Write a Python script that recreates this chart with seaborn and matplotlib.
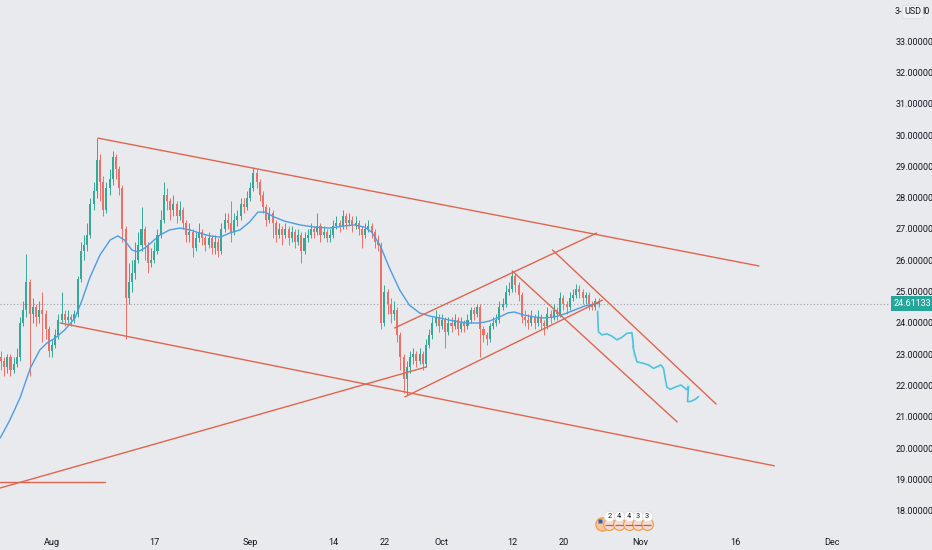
import numpy as np
import pandas as pd
import matplotlib
matplotlib.use("Agg")
import matplotlib.pyplot as plt
import matplotlib.dates as mdates
import matplotlib.transforms as mtransforms
import seaborn as sns

# ---------------- data ----------------
START = "2024-07-24 00:00"          # first 12h candle
BASE = "2024-08-01"                  # reference day for drawing coordinates
open_first = 22.9
close = [22.8, 22.6, 22.9, 22.5, 22.7, 22.9, 24.0, 24.4, 25.3, 24.3,
         24.5, 24.2, 24.4, 24.3, 23.8, 23.1, 23.3, 23.6, 24.1, 24.3,
         24.1, 24.2, 24.1, 24.3, 25.4, 26.3, 26.5, 26.8, 27.8, 28.2,
         29.2, 28.5, 27.6, 28.3, 28.6, 29.3, 28.9, 28.3, 27.0, 24.8,
         25.3, 25.6, 26.0, 26.5, 27.0, 26.5, 25.9, 26.0, 26.3, 26.8,
         27.3, 28.1, 27.9, 27.6, 27.8, 27.4, 27.6, 27.2, 26.8, 26.9,
         26.4, 26.7, 26.9, 26.7, 26.5, 26.7, 26.4, 26.6, 26.3, 27.0,
         27.3, 27.2, 26.9, 27.3, 27.4, 27.8, 27.7, 28.0, 28.3, 28.8,
         28.5, 28.1, 27.7, 27.3, 27.5, 27.2, 26.8, 27.0, 26.8, 27.0,
         26.7, 26.9, 26.6, 26.8, 26.3, 26.7, 26.8, 27.0, 26.9, 27.1,
         26.8, 26.9, 26.7, 26.8, 27.1, 27.2, 27.1, 27.4, 27.2, 27.3,
         27.1, 27.2, 27.0, 26.8, 27.0, 27.1, 26.9, 26.6, 26.5, 24.0,
         25.0, 24.6, 24.3, 24.4, 23.6, 22.9, 22.2, 22.6, 22.9, 23.0,
         22.8, 23.0, 22.7, 23.3, 23.6, 24.0, 24.2, 23.9, 24.1, 23.7,
         24.0, 23.9, 24.1, 23.8, 24.0, 23.9, 24.1, 24.4, 24.3, 24.5,
         23.8, 23.6, 23.5, 23.9, 24.0, 24.1, 24.5, 24.6, 25.0, 25.1,
         25.5, 25.2, 24.9, 24.2, 24.1, 24.0, 24.2, 24.0, 24.2, 24.0,
         23.9, 24.3, 24.2, 24.4, 24.3, 24.8, 24.6, 24.5, 24.8, 24.9,
         25.1, 25.0, 24.8, 24.9, 24.6, 24.5, 24.7, 24.61]
high = [23.1, 22.9, 23.0, 23.0, 22.9, 23.2, 24.2, 24.7, 26.2, 25.4,
        24.8, 24.6, 24.7, 25.0, 24.4, 23.9, 23.5, 23.8, 24.3, 25.0,
        24.4, 24.4, 24.3, 24.4, 25.5, 26.6, 26.8, 27.2, 28.0, 28.5,
        29.9, 29.4, 28.7, 28.5, 28.9, 29.5, 29.4, 29.0, 28.4, 27.1,
        25.9, 26.0, 26.6, 26.9, 27.7, 27.1, 26.6, 26.4, 26.6, 27.0,
        27.6, 28.5, 28.3, 28.0, 28.1, 27.9, 27.9, 27.7, 27.3, 27.2,
        27.0, 26.9, 27.2, 27.0, 26.8, 26.9, 26.8, 26.8, 26.7, 27.2,
        27.5, 27.5, 27.9, 27.5, 27.6, 28.0, 28.0, 28.2, 28.5, 28.95,
        28.9, 28.6, 28.2, 27.8, 27.7, 27.6, 27.3, 27.2, 27.1, 27.2,
        27.1, 27.1, 27.0, 27.0, 26.9, 26.9, 27.0, 27.2, 27.1, 27.5,
        27.2, 27.1, 27.0, 27.0, 27.3, 27.4, 27.3, 27.6, 27.5, 27.5,
        27.4, 27.4, 27.3, 27.1, 27.2, 27.3, 27.2, 27.0, 26.8, 26.6,
        25.2, 25.1, 24.8, 24.7, 24.5, 23.7, 23.0, 22.8, 23.1, 23.2,
        23.1, 23.2, 23.1, 23.5, 23.8, 24.2, 24.4, 24.3, 24.3, 24.2,
        24.2, 24.2, 24.3, 24.2, 24.2, 24.1, 24.3, 24.5, 24.5, 24.6,
        24.6, 23.9, 23.7, 24.0, 24.2, 24.3, 24.7, 24.8, 25.2, 25.3,
        25.65, 25.6, 25.3, 25.0, 24.4, 24.3, 24.4, 24.3, 24.4, 24.3,
        24.1, 24.5, 24.4, 24.6, 24.5, 25.0, 24.9, 24.7, 25.0, 25.1,
        25.25, 25.2, 25.1, 25.0, 25.0, 24.7, 24.8, 24.8]
low = [22.5, 22.3, 22.4, 22.3, 22.4, 22.6, 22.8, 23.9, 24.2, 22.3,
       24.0, 23.9, 24.0, 23.4, 23.5, 22.9, 22.9, 23.2, 23.5, 24.0,
       23.9, 24.0, 23.9, 24.0, 24.2, 25.3, 26.0, 26.3, 26.7, 27.6,
       28.0, 27.9, 27.4, 27.5, 28.1, 28.4, 28.6, 28.1, 26.6, 23.5,
       24.6, 25.0, 25.4, 25.9, 26.3, 26.0, 25.6, 25.8, 25.9, 26.2,
       26.7, 27.2, 27.6, 27.3, 27.4, 27.2, 27.3, 27.0, 26.6, 26.6,
       26.1, 26.3, 26.6, 26.5, 26.3, 26.4, 26.2, 26.2, 26.1, 26.2,
       26.9, 27.0, 26.6, 26.8, 27.1, 27.3, 27.5, 27.6, 27.9, 28.2,
       28.3, 27.9, 27.5, 27.1, 27.2, 26.7, 26.6, 26.7, 26.5, 26.7,
       26.5, 26.6, 26.4, 26.5, 25.9, 26.2, 26.6, 26.7, 26.7, 26.8,
       26.6, 26.7, 26.6, 26.6, 26.7, 27.0, 26.9, 27.0, 27.0, 27.1,
       26.9, 27.0, 26.8, 26.4, 26.7, 26.9, 26.7, 26.4, 26.3, 23.8,
       23.9, 24.3, 24.0, 24.1, 23.4, 22.5, 21.75, 21.7, 22.4, 22.7,
       22.6, 22.7, 22.5, 22.6, 23.2, 23.5, 23.9, 23.7, 23.8, 23.2,
       23.6, 23.7, 23.8, 23.6, 23.7, 23.7, 23.8, 24.0, 24.1, 24.2,
       22.9, 23.4, 23.3, 23.4, 23.8, 23.9, 24.0, 24.4, 24.5, 24.9,
       25.0, 25.0, 24.7, 24.0, 23.9, 23.8, 23.9, 23.8, 23.9, 23.8,
       23.6, 23.8, 24.0, 24.1, 24.1, 24.2, 24.4, 24.3, 24.4, 24.7,
       24.8, 24.8, 24.6, 24.6, 24.4, 24.4, 24.4, 24.5]

# moving average line (days from BASE, price)
ma_day = [-8.1, -6.6, -5.0, -3.4, -1.9, -0.8, 0.5, 2.0, 3.6, 4.7, 5.9, 7.5,
          9.1, 10.3, 11.3, 12.5, 13.4, 14.5, 15.6, 16.9, 18.4, 20.0, 21.6,
          23.1, 24.7, 26.3, 27.8, 29.4, 30.9, 32.2, 33.3, 34.8, 36.4, 38.8,
          41.1, 43.4, 45.8, 47.3, 48.9, 50.0, 51.3, 52.8, 54.4, 55.9, 57.5,
          59.1, 60.6, 62.2, 63.8, 65.3, 66.9, 68.4, 70.0, 71.3, 72.3, 73.9,
          75.5, 77.0, 78.6, 80.2, 81.7, 83.3, 84.8, 85.6]
ma_val = [20.33, 20.90, 21.61, 22.56, 23.14, 23.36, 23.52, 23.78, 24.16,
          24.73, 25.44, 26.17, 26.65, 26.78, 26.65, 26.33, 26.27, 26.39,
          26.58, 26.81, 26.97, 27.03, 26.97, 26.87, 26.78, 26.74, 26.87,
          26.97, 27.22, 27.54, 27.54, 27.38, 27.25, 27.13, 27.06, 27.03,
          27.10, 27.13, 27.06, 26.90, 26.49, 25.75, 25.05, 24.57, 24.32,
          24.22, 24.16, 24.09, 24.03, 24.00, 24.00, 24.06, 24.19, 24.32,
          24.35, 24.25, 24.19, 24.16, 24.19, 24.29, 24.41, 24.54, 24.60,
          24.64]

# projected path drawn by the author (days from BASE, price)
proj_day = [85.34, 85.34, 85.49, 86.02, 86.81, 87.59, 88.37, 89.15, 89.94,
            90.72, 90.97, 90.88, 90.97, 91.50, 92.53, 93.32, 94.10, 94.63,
            95.26, 95.67, 95.93, 96.20, 96.71, 97.50, 98.39, 99.33, 99.58,
            99.33, 99.42, 99.84, 100.63, 101.14]
proj_val = [24.63, 24.10, 23.72, 23.62, 23.65, 23.58, 23.46, 23.54, 23.67,
            23.69, 23.56, 23.24, 22.92, 22.76, 22.71, 22.66, 22.55, 22.60,
            22.66, 22.55, 22.23, 21.95, 21.88, 21.95, 22.02, 22.09, 21.97,
            21.65, 21.49, 21.49, 21.56, 21.65]

# trend lines: (day0, price0, day1, price1)
line_top = (7.2, 29.90, 110.6, 25.82)
line_bottom = (1.25, 24.00, 113.0, 19.44)
line_rising = (-8.14, 18.73, 58.6, 22.60)
channel_upper = (53.6, 23.84, 85.2, 26.87)
channel_lower = (55.2, 21.64, 86.1, 24.73)
steep_upper = (78.3, 26.33, 103.9, 21.41)
steep_lower = (72.0, 25.66, 97.8, 20.84)
flat_support = (-8.14, 18.92, 8.3, 18.92)

last_price = 24.61133
price_ticks = list(range(18, 34))
date_ticks = ["2024-08-01", "2024-08-17", "2024-09-01", "2024-09-14",
              "2024-09-22", "2024-10-01", "2024-10-12", "2024-10-20",
              "2024-11-01", "2024-11-16", "2024-12-01"]
date_labels = ["Aug", "17", "Sep", "14", "22", "Oct", "12", "20", "Nov",
               "16", "Dec"]
event_day = [87.2, 88.75, 90.2, 91.7, 93.1]
event_count = ["2", "4", "4", "3", "3"]

# ---------------- style ----------------
BG = "#e9eaed"
UP = "#37a897"
DN = "#ee6f66"
LINE = "#e0654f"
MA_C = "#4b9de6"
PROJ_C = "#4ec3df"
TXT = "#131722"

sns.set_theme(style="white")
plt.rcParams["font.family"] = ["Roboto", "DejaVu Sans"]

fig = plt.figure(figsize=(9.32, 5.5), dpi=100, facecolor=BG)
ax = fig.add_axes([0, 30 / 550, 890 / 932, 520 / 550])
ax.set_facecolor(BG)
for s in ax.spines.values():
    s.set_visible(False)

base = mdates.date2num(pd.Timestamp(BASE))


def dn(d):
    return base + np.asarray(d, dtype=float)


# candles
t = mdates.date2num(pd.date_range(START, periods=len(close), freq="12h"))
c = np.array(close)
o = np.array([open_first] + close[:-1])
cols = np.where(c >= o, UP, DN)
ax.vlines(t, low, high, colors=cols, lw=0.7, zorder=3)
body = np.maximum(np.abs(c - o), 0.03)
ax.bar(t, body, bottom=np.minimum(o, c), width=0.32, color=cols,
       linewidth=0, zorder=4)

# moving average and projection via seaborn
sns.lineplot(x=dn(ma_day), y=ma_val, ax=ax, color=MA_C, lw=1.0, zorder=5)
sns.lineplot(x=dn(proj_day), y=proj_val, ax=ax, color=PROJ_C, lw=1.2,
             sort=False, zorder=5)

# trend lines
for ln in [line_top, line_bottom, line_rising, channel_upper, channel_lower,
           steep_upper, steep_lower, flat_support]:
    ax.plot(dn([ln[0], ln[2]]), [ln[1], ln[3]], color=LINE, lw=1.0, zorder=6)

# last price dotted line
ax.axhline(last_price, color="#9aa0aa", lw=0.8, ls=(0, (1, 2)), zorder=2)

# axes limits
ax.set_xlim(base - 8.14, base + 131.1)
ax.set_ylim(17.71, 34.31)

# ticks
ax.yaxis.tick_right()
ax.set_yticks(price_ticks)
ax.set_yticklabels([f"{v:.5f}" for v in price_ticks])
ax.tick_params(axis="y", length=0, pad=4, labelsize=6.5, labelcolor=TXT)
ax.set_xticks(mdates.date2num(pd.to_datetime(date_ticks)))
ax.set_xticklabels(date_labels)
ax.tick_params(axis="x", length=0, pad=13, labelsize=6.6, labelcolor=TXT)
ax.grid(False)

# last price label
tr = mtransforms.blended_transform_factory(ax.transAxes, ax.transData)
ax.text(1.0 + 4 / 890, last_price, "24.61133", transform=tr, ha="left",
        va="center", color="white", fontsize=6.5, zorder=10, clip_on=False,
        bbox=dict(boxstyle="square,pad=0.35", fc="#26a69a", ec="none"))

# currency label top right
fig.text(898 / 932, 1 - 12 / 550, "3-", ha="center", va="center",
         fontsize=6.3, color=TXT, zorder=20)
fig.text(913 / 932, 1 - 12 / 550, "USD", ha="center", va="center",
         fontsize=6.5, color=TXT, zorder=19,
         bbox=dict(boxstyle="round,pad=0.25", fc="#f0f1f3", ec="#d6d8dc",
                   lw=0.5))
fig.text(926 / 932, 1 - 12 / 550, "I0", ha="center", va="center",
         fontsize=6.3, color=TXT, zorder=20)

# economic event markers near the bottom
trf = mtransforms.blended_transform_factory(ax.transData, fig.transFigure)
ax.plot([dn(event_day[0]) - 1.1], [1 - 524 / 550], marker="o", ms=9.5,
        mfc="#f2c7a0", mec="#f0a04a", mew=1.0, transform=trf, clip_on=False,
        zorder=11)
ax.plot([dn(event_day[0]) - 1.4], [1 - 521 / 550], marker="s", ms=3.5,
        mfc="#3c5ba8", mec="none", transform=trf, clip_on=False, zorder=12)
for d, n in zip(event_day, event_count):
    ax.plot([dn(d)], [1 - 524 / 550], marker="o", ms=8.5, mfc="#f4dcd6",
            mec="#f0a04a", mew=0.9, transform=trf, clip_on=False, zorder=11)
    ax.plot([dn(d)], [1 - 525 / 550], marker="_", ms=6, mec="#e0504a",
            mew=0.9, transform=trf, clip_on=False, zorder=12)
    ax.plot([dn(d)], [1 - 516 / 550], marker="o", ms=7.5, mfc="white",
            mec="#dddddd", mew=0.5, transform=trf, clip_on=False, zorder=13)
    ax.text(dn(d), 1 - 516 / 550, n, transform=trf, ha="center",
            va="center", fontsize=5.3, color=TXT, zorder=14, clip_on=False)

fig.savefig("out.png", dpi=100, facecolor=BG)
